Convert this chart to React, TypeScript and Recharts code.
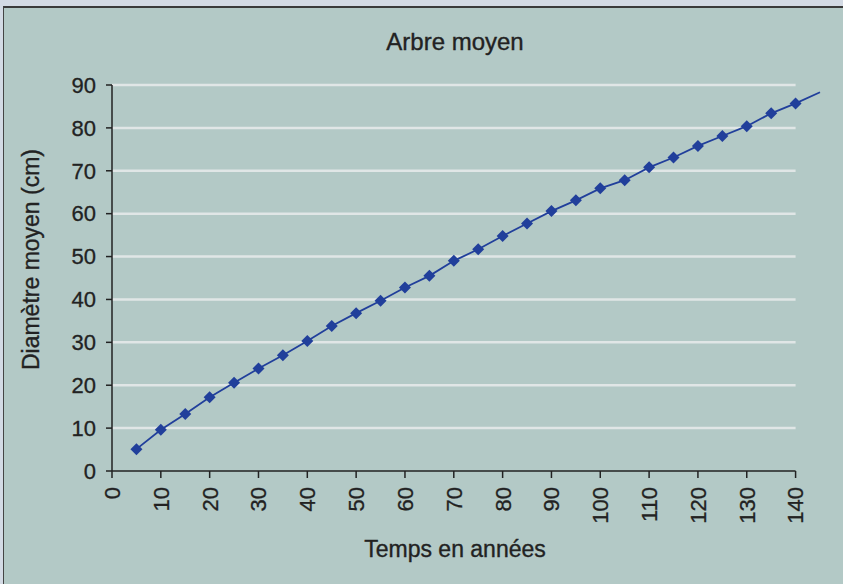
import { LineChart, Line, XAxis, YAxis, ReferenceLine } from 'recharts'

// years (every 5 years) and mean diameter in cm
const years = [5, 10, 15, 20, 25, 30, 35, 40, 45, 50, 55, 60, 65, 70, 75, 80, 85, 90, 95, 100, 105, 110, 115, 120, 125, 130, 135, 140, 145]
const diametre = [5.1, 9.6, 13.3, 17.2, 20.6, 23.9, 27.0, 30.3, 33.8, 36.8, 39.7, 42.8, 45.5, 49.0, 51.7, 54.8, 57.7, 60.6, 63.1, 65.9, 67.8, 70.8, 73.1, 75.8, 78.1, 80.4, 83.4, 85.7, 88.3]
const xTicks = [0, 10, 20, 30, 40, 50, 60, 70, 80, 90, 100, 110, 120, 130, 140]
const yTicks = [0, 10, 20, 30, 40, 50, 60, 70, 80, 90]
const gridLevels = [10, 20, 30, 40, 50, 60, 70, 80, 90]

const data = years.map((annee, i) => ({ annee, diametre: diametre[i] }))

const FONT = '"Liberation Sans", Arial, sans-serif'
const TEXT = '#222'
const BLUE = '#213f9b'

const XTick = (props: any) => {
  const { x, y, payload } = props
  const ty = y + 7
  return (
    <text
      x={x}
      y={ty}
      transform={`rotate(-90, ${x}, ${ty})`}
      textAnchor="end"
      dy="0.36em"
      fontSize={22}
      fontFamily={FONT}
      fill={TEXT}
      stroke={TEXT}
      strokeWidth={0.3}
    >
      {payload.value}
    </text>
  )
}

const Diamond = (props: any) => {
  const { cx, cy, payload, index } = props
  if (payload.annee > 140) return <g key={`d-${index}`} />
  const r = 6
  return (
    <polygon
      key={`d-${index}`}
      points={`${cx},${cy - r} ${cx + r},${cy} ${cx},${cy + r} ${cx - r},${cy}`}
      fill={BLUE}
    />
  )
}

const titleStyle = { position: 'absolute' as const, textAlign: 'center' as const, color: TEXT, WebkitTextStroke: '0.35px #222', whiteSpace: 'nowrap' as const }

export default function App() {
  return (
    <div style={{ position: 'absolute', left: 0, top: 0, width: 843, height: 584, background: '#d3dae4', fontFamily: FONT, overflow: 'hidden' }}>
      <div
        style={{
          position: 'absolute',
          left: 3,
          top: 6,
          width: 840,
          height: 578,
          background: '#b3c9c6',
          borderTop: '2px solid #3a3a3a',
          borderLeft: '1px solid #444',
          boxSizing: 'border-box',
        }}
      />
      <div style={{ position: 'absolute', left: 0, top: 0 }}>
        <LineChart width={843} height={584} data={data} margin={{ top: 85, right: 23, left: 52, bottom: 53 }}>
          <XAxis
            dataKey="annee"
            type="number"
            domain={[0, 145]}
            ticks={xTicks}
            interval={0}
            axisLine={false}
            tickLine={{ stroke: TEXT, strokeWidth: 1.5 }}
            tickSize={7}
            height={60}
            tick={<XTick />}
          />
          <YAxis
            type="number"
            domain={[0, 90]}
            ticks={yTicks}
            interval={0}
            width={60}
            axisLine={{ stroke: TEXT, strokeWidth: 1.5 }}
            tickLine={{ stroke: TEXT, strokeWidth: 1.5 }}
            tickSize={6}
            tickMargin={10}
            tick={{ fontSize: 22, fontFamily: FONT, fill: TEXT, stroke: TEXT, strokeWidth: 0.3 }}
          />
          {gridLevels.map((v) => (
            <ReferenceLine
              key={v}
              segment={[{ x: 0, y: v }, { x: 140, y: v }]}
              stroke="#e0e6e6"
              strokeWidth={2.5}
            />
          ))}
          <ReferenceLine segment={[{ x: 0, y: 0 }, { x: 140, y: 0 }]} stroke={TEXT} strokeWidth={1.5} />
          <Line
            type="linear"
            dataKey="diametre"
            stroke={BLUE}
            strokeWidth={1.8}
            dot={<Diamond />}
            activeDot={false}
            isAnimationActive={false}
          />
        </LineChart>
      </div>
      <div style={{ ...titleStyle, left: 305, width: 300, top: 28, fontSize: 24, lineHeight: '27px' }}>
        Arbre moyen
      </div>
      <div style={{ ...titleStyle, left: 305, width: 300, top: 536, fontSize: 23, lineHeight: '26px' }}>
        Temps en années
      </div>
      <div
        style={{
          ...titleStyle,
          left: 31 - 150,
          top: 259 - 13.5,
          width: 300,
          height: 27,
          lineHeight: '27px',
          fontSize: 23,
          transform: 'rotate(-90deg)',
        }}
      >
        Diamètre moyen (cm)
      </div>
    </div>
  )
}
